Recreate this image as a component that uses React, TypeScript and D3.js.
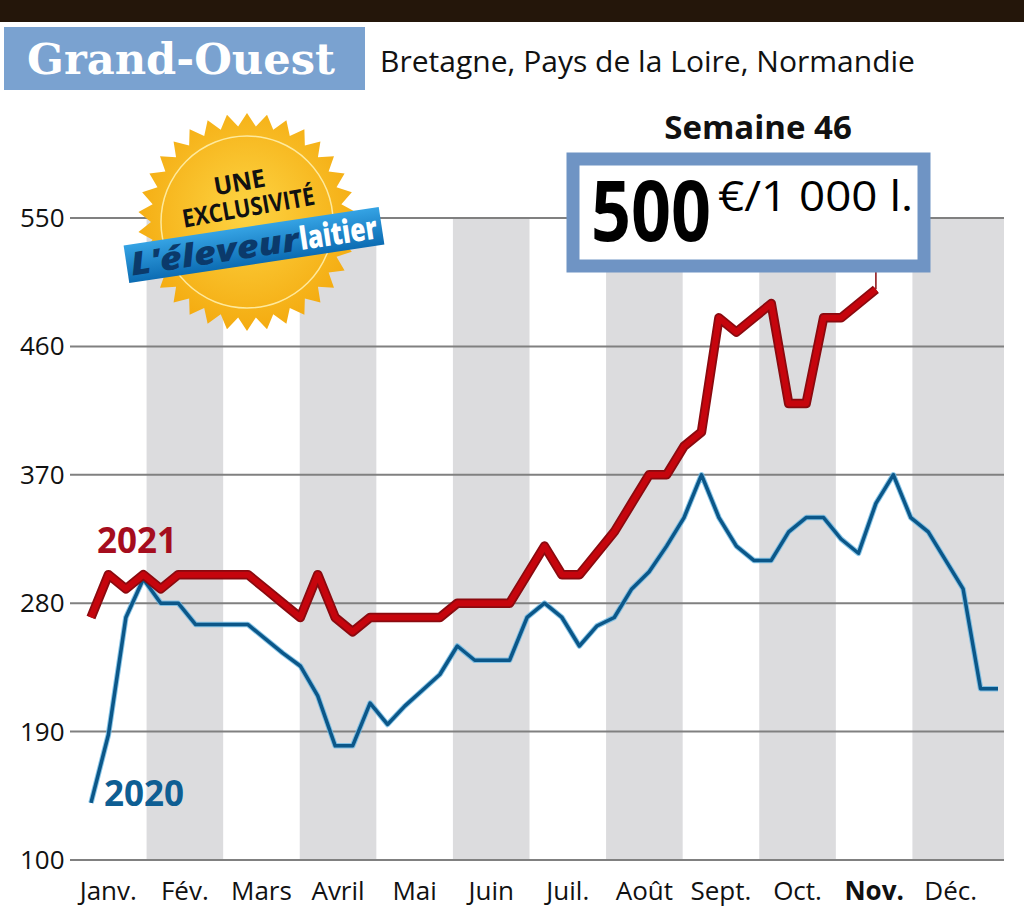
import * as d3 from "d3";

// months of the x axis
const months = ["Janv.", "Fév.", "Mars", "Avril", "Mai", "Juin", "Juil.", "Août", "Sept.", "Oct.", "Nov.", "Déc."];
const boldMonth = "Nov.";

// y axis ticks (€/1000 l)
const yTicks = [100, 190, 280, 370, 460, 550];

// weekly prices, week 1 onwards
const prices2021 = [
  270, 300, 290, 300, 290, 300, 300, 300, 300, 300, 290, 280, 270, 300, 270, 260,
  270, 270, 270, 270, 270, 280, 280, 280, 280, 300, 320, 300, 300, 315, 330, 350,
  370, 370, 390, 400, 480, 470, 480, 490, 420, 420, 480, 480, 490, 500,
];
const prices2020 = [
  140, 188, 270, 297, 280, 280, 265, 265, 265, 265, 255, 245, 236, 215, 180, 180,
  210, 195, 208, 219, 230, 250, 240, 240, 240, 270, 280, 270, 250, 264, 270, 290,
  302, 320, 340, 370, 340, 320, 310, 310, 330, 340, 340, 325, 315, 350, 370, 340,
  330, 310, 290, 220, 220,
];

const currentWeek = 46;
const currentPrice = 500;

const SANS = "'Open Sans', 'DejaVu Sans', sans-serif";

function starPath(cx: number, cy: number, rOut: number, rIn: number, n: number) {
  const pts: [number, number][] = [];
  for (let i = 0; i < n * 2; i++) {
    const a = (Math.PI * i) / n;
    const r = i % 2 === 0 ? rOut : rIn;
    pts.push([cx + r * Math.sin(a), cy - r * Math.cos(a)]);
  }
  return d3.line()(pts) + "Z";
}

export default function App() {
  const width = 1024;
  const height = 912;
  const left = 70;
  const right = 1004;
  const top = 218;
  const bottom = 860;

  const y = d3.scaleLinear().domain([100, 550]).range([bottom, top]);
  const x = d3.scaleLinear().domain([1, 53]).range([91, 998]);
  const xm = d3.scaleBand().domain(months).range([left, 989]);

  const line = d3
    .line<number>()
    .x((_, i) => x(i + 1))
    .y((d) => y(d));

  const path2021 = line(prices2021) || "";
  const path2020 = line(prices2020) || "";

  return (
    <svg
      width={width}
      height={height}
      style={{ position: "absolute", left: 0, top: 0, background: "#fff" }}
      fontFamily={SANS}
    >
      <defs>
        <radialGradient id="gold" cx="50%" cy="45%" r="55%">
          <stop offset="0%" stopColor="#fdd443" />
          <stop offset="100%" stopColor="#f4ab10" />
        </radialGradient>
        <linearGradient id="banner" x1="0" y1="0" x2="0" y2="1">
          <stop offset="0%" stopColor="#35a3e4" />
          <stop offset="100%" stopColor="#0c6cb3" />
        </linearGradient>
      </defs>

      {/* top dark strip */}
      <rect x={0} y={0} width={width} height={22} fill="#24160a" />

      {/* title */}
      <rect x={4} y={27} width={361} height={63} fill="#7aa2d0" />
      <text
        x={27}
        y={74}
        fontFamily="'DejaVu Serif', serif"
        fontWeight={700}
        fontSize={42}
        fill="#fff"
        textLength={308}
        lengthAdjust="spacingAndGlyphs"
      >
        Grand-Ouest
      </text>
      <text x={380} y={72} fontSize={30} fill="#111" textLength={535} lengthAdjust="spacingAndGlyphs">
        Bretagne, Pays de la Loire, Normandie
      </text>

      {/* month bands */}
      {months.map((m, i) =>
        i % 2 === 1 ? (
          <rect
            key={m}
            x={xm(m)!}
            y={top}
            width={i === months.length - 1 ? right - xm(m)! : xm.bandwidth()}
            height={bottom - top}
            fill="#dcdcde"
          />
        ) : null
      )}

      {/* grid + y labels */}
      {yTicks.map((t) => (
        <g key={t}>
          <line x1={left} x2={right} y1={y(t)} y2={y(t)} stroke="#808080" strokeWidth={2} />
          <text x={20} y={y(t) + 9} fontSize={26} fill="#111">
            {t}
          </text>
        </g>
      ))}

      {/* month labels */}
      {months.map((m) => (
        <text
          key={m}
          x={xm(m)! + xm.bandwidth() / 2}
          y={900}
          fontSize={26}
          textAnchor="middle"
          fontWeight={m === boldMonth ? 700 : 400}
          fill="#111"
        >
          {m}
        </text>
      ))}

      {/* 2020 line */}
      <path d={path2020} fill="none" stroke="#6bb8e2" strokeWidth={5.5} strokeLinejoin="round" opacity={0.8} />
      <path d={path2020} fill="none" stroke="#0b5789" strokeWidth={3.5} strokeLinejoin="round" />

      {/* 2021 line */}
      <path d={path2021} fill="none" stroke="#8a0a0f" strokeWidth={9.5} strokeLinejoin="round" />
      <path d={path2021} fill="none" stroke="#c6050d" strokeWidth={6} strokeLinejoin="round" />

      {/* connector to current value */}
      <line
        x1={x(currentWeek)}
        x2={x(currentWeek)}
        y1={y(currentPrice)}
        y2={268}
        stroke="#8a0a0f"
        strokeWidth={1.5}
      />

      {/* series labels */}
      <text x={97} y={553} fontSize={35} fontWeight={700} fill="#a50d1e">
        2021
      </text>
      <text x={104} y={806} fontSize={35} fontWeight={700} fill="#0e5e93">
        2020
      </text>

      {/* current value box */}
      <text x={758} y={139} fontSize={33} fontWeight={700} textAnchor="middle" fill="#111">
        Semaine {currentWeek}
      </text>
      <rect x={573} y={159} width={351} height={107} fill="#fff" stroke="#6f94c4" strokeWidth={13} />
      <text x={591} y={241} fontSize={84} fontWeight={700} fill="#000" textLength={120} lengthAdjust="spacingAndGlyphs">
        {currentPrice}
      </text>
      <text x={718} y={211} fontSize={42} fill="#000" textLength={195} lengthAdjust="spacingAndGlyphs">
        €/1 000 l.
      </text>

      {/* badge */}
      <g>
        <path d={starPath(247, 222, 109, 96, 34)} fill="url(#gold)" />
        <circle cx={247} cy={222} r={86} fill="none" stroke="#fff2b3" strokeWidth={1.5} opacity={0.85} />
        <g transform="translate(241,191) rotate(-10)">
          <text x={0} y={0} fontSize={25} fontWeight={700} textAnchor="middle" fill="#111" textLength={52} lengthAdjust="spacingAndGlyphs">
            UNE
          </text>
        </g>
        <g transform="translate(250,216) rotate(-10)">
          <text x={0} y={0} fontSize={25} fontWeight={700} textAnchor="middle" fill="#111" textLength={134} lengthAdjust="spacingAndGlyphs">
            EXCLUSIVITÉ
          </text>
        </g>
        <g transform="translate(254,245) rotate(-8.6)">
          <rect x={-129} y={-19} width={258} height={38} fill="url(#banner)" />
          <text
            x={-125}
            y={12}
            fontSize={32}
            fontWeight={800}
            fontStyle="italic"
            fill="#0b3a6b"
            textLength={170}
            lengthAdjust="spacingAndGlyphs"
          >
            L'éleveur
          </text>
          <text x={46} y={12} fontSize={32} fontWeight={800} fill="#fff" textLength={78} lengthAdjust="spacingAndGlyphs">
            laitier
          </text>
        </g>
      </g>
    </svg>
  );
}
